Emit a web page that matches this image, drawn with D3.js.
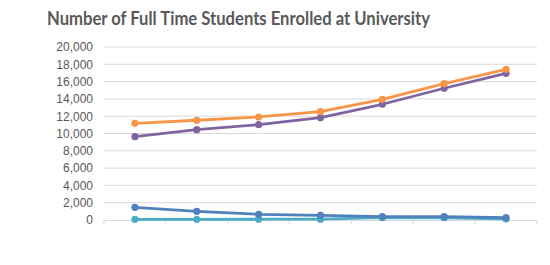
<!DOCTYPE html>
<html>
<head>
<meta charset="utf-8">
<script src="https://cdn.jsdelivr.net/npm/d3@7"></script>
<style>
  body { margin: 0; background: #fff; }
  svg { display: block; font-family: Lato, 'Open Sans', sans-serif; }
</style>
</head>
<body>
<div id="graf"></div>
<script>
// datos
periodos = ['1', '2', '3', '4', '5', '6', '7']
serieNaranja = [11180, 11530, 11910, 12520, 13950, 15770, 17420]
seriePurpura = [9630, 10440, 11020, 11830, 13380, 15230, 16960]
serieAzul    = [1470, 1000, 660, 540, 390, 380, 270]
serieTurquesa = [80, 80, 90, 100, 280, 260, 130]
yTicks = [0, 2000, 4000, 6000, 8000, 10000, 12000, 14000, 16000, 18000, 20000]

series = [
  { nombre: 'turquesa', valores: serieTurquesa, color: '#4BACC6' },
  { nombre: 'azul', valores: serieAzul, color: '#4F81BD' },
  { nombre: 'purpura', valores: seriePurpura, color: '#8064A2' },
  { nombre: 'naranja', valores: serieNaranja, color: '#F79646' }
]

ancho_total = 550
alto_total = 265
margins = { top: 47, left: 104, right: 13, bottom: 45 }
ancho = ancho_total - margins.left - margins.right
alto = alto_total - margins.top - margins.bottom

svg = d3.select('#graf').append('svg')
  .attr('width', ancho_total)
  .attr('height', alto_total)

svg.append('text')
  .attr('x', 47)
  .attr('y', 25)
  .attr('font-size', '18px')
  .attr('font-weight', 'bold')
  .attr('fill', '#595959')
  .attr('textLength', 383)
  .attr('lengthAdjust', 'spacingAndGlyphs')
  .text('Number of Full Time Students Enrolled at University')

g = svg.append('g')
  .attr('transform', `translate(${margins.left}, ${margins.top})`)

x = d3.scaleBand().domain(periodos).range([0, ancho])
y = d3.scaleLinear().domain([0, 20000]).range([alto, 0])

// rejilla
g.selectAll('.grid')
  .data(yTicks.filter(d => d > 0))
  .enter().append('line')
    .attr('x1', 0).attr('x2', ancho)
    .attr('y1', d => y(d)).attr('y2', d => y(d))
    .attr('stroke', '#D9D9D9')
    .attr('stroke-width', 1)

// eje y
yAxis = g.append('g')
  .call(d3.axisLeft(y).tickValues(yTicks).tickFormat(d3.format(',')).tickSize(0).tickPadding(11))
yAxis.select('.domain').remove()
yAxis.selectAll('text')
  .attr('fill', '#595959')
  .attr('font-size', '12px')

// eje x
xAxis = g.append('g')
  .attr('transform', `translate(0, ${alto})`)
  .call(d3.axisBottom(x).tickFormat('').tickSize(0))
xAxis.select('.domain').attr('stroke', '#D9D9D9')
xAxis.selectAll('.tick').remove()
bordes = periodos.map(d => x(d)).concat([ancho])
xAxis.selectAll('.marca')
  .data(bordes)
  .enter().append('line')
    .attr('x1', d => d).attr('x2', d => d)
    .attr('y1', 0).attr('y2', 4)
    .attr('stroke', '#D9D9D9')

linea = d3.line()
  .x((d, i) => x(periodos[i]) + x.bandwidth() / 2)
  .y(d => y(d))

series.forEach(s => {
  gs = g.append('g')
  gs.append('path')
    .attr('d', linea(s.valores))
    .attr('fill', 'none')
    .attr('stroke', s.color)
    .attr('stroke-width', 2.8)
    .attr('stroke-linejoin', 'round')
  gs.selectAll('circle')
    .data(s.valores)
    .enter().append('circle')
      .attr('cx', (d, i) => x(periodos[i]) + x.bandwidth() / 2)
      .attr('cy', d => y(d))
      .attr('r', 3.6)
      .attr('fill', s.color)
})
</script>
</body>
</html>
